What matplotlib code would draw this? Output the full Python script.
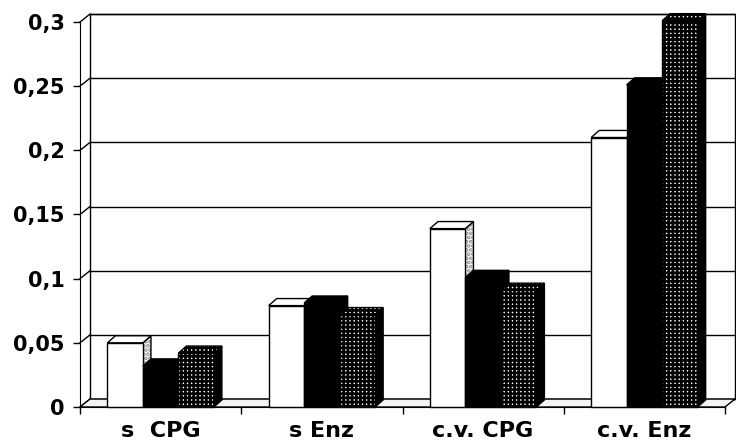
import matplotlib.pyplot as plt
from matplotlib.patches import Polygon
import numpy as np

# data
groups = ['s  CPG', 's Enz', 'c.v. CPG', 'c.v. Enz']
white_vals = [0.050, 0.079, 0.139, 0.210]
black_vals = [0.032, 0.081, 0.101, 0.251]
dotted_vals = [0.042, 0.072, 0.091, 0.301]
y_ticks = [0, 0.05, 0.1, 0.15, 0.2, 0.25, 0.3]
y_tick_labels = ['0', '0,05', '0,1', '0,15', '0,2', '0,25', '0,3']

plt.rcParams['font.family'] = 'DejaVu Sans'
plt.rcParams['font.weight'] = 'bold'
plt.rcParams['hatch.color'] = 'black'
plt.rcParams['hatch.linewidth'] = 1.9

fig = plt.figure(figsize=(7.36, 4.47), dpi=100)
ax = fig.add_axes([80 / 736, 40 / 447, 645 / 736, 385 / 447])
ax.set_xlim(0, 4)
ax.set_ylim(0, 0.3)

ymax = y_ticks[-1]
n = len(groups)
wx, wy = 0.062, 0.0062   # depth of walls / floor
bx, by = 0.05, 0.0055    # depth of the columns
bw = 0.22                # column width
x0 = 0.17                # first column offset inside a category

# back wall, floor and side-wall lines
ax.add_patch(Polygon([(wx, wy), (n + wx, wy), (n + wx, ymax + wy), (wx, ymax + wy)],
                     closed=True, fc='white', ec='black', lw=1, zorder=1, clip_on=False))
for t in y_ticks:
    ax.plot([wx, n + wx], [t + wy, t + wy], color='black', lw=1, zorder=1.5, clip_on=False)
    ax.plot([0, wx], [t, t + wy], color='black', lw=1, zorder=1.5, clip_on=False)
ax.add_patch(Polygon([(0, 0), (n, 0), (n + wx, wy), (wx, wy)], closed=True,
                     fc='#f4f4f4', ec='black', lw=1, zorder=2, clip_on=False))

# columns: (values, front/top fill, front/top hatch, side fill, side hatch)
series = [
    (white_vals, 'white', None, 'white', '....'),
    (black_vals, 'black', None, 'black', None),
    (dotted_vals, 'white', '++++', 'black', None),
]

for j, (vals, fc, hatch, side_fc, side_hatch) in enumerate(series):
    xs = np.arange(n) + x0 + j * bw
    z = 3 + 2 * j
    for x, v in zip(xs, vals):
        side = [(x + bw, 0), (x + bw, v), (x + bw + bx, v + by), (x + bw + bx, by)]
        top = [(x, v), (x + bw, v), (x + bw + bx, v + by), (x + bx, v + by)]
        if side_hatch:
            ax.add_patch(Polygon(side, closed=True, fc=side_fc, ec='#888888', lw=0,
                                 hatch=side_hatch, zorder=z, clip_on=False))
            ax.add_patch(Polygon(side, closed=True, fill=False, ec='black', lw=1,
                                 zorder=z, clip_on=False))
        else:
            ax.add_patch(Polygon(side, closed=True, fc=side_fc, ec='black', lw=1,
                                 zorder=z, clip_on=False))
        ax.add_patch(Polygon(top, closed=True, fc=fc, ec='black', lw=1, hatch=hatch,
                             zorder=z, clip_on=False))
    ax.bar(xs, vals, width=bw, align='edge', color=fc, edgecolor='black', lw=1,
           hatch=hatch, zorder=z + 1, clip_on=False)

# axes
for s in ['top', 'right']:
    ax.spines[s].set_visible(False)
ax.spines['left'].set_zorder(10)
ax.spines['bottom'].set_zorder(10)
ax.set_yticks(y_ticks, y_tick_labels)
ax.set_xticks(range(n + 1))
ax.set_xticklabels([])
ax.set_xticks(np.arange(n) + 0.5, groups, minor=True)
ax.tick_params(axis='y', length=5, width=1, pad=6, labelsize=15)
ax.tick_params(axis='x', which='major', length=5, width=1)
ax.tick_params(axis='x', which='minor', length=0, pad=10, labelsize=16)

fig.savefig('out.png', dpi=100)
